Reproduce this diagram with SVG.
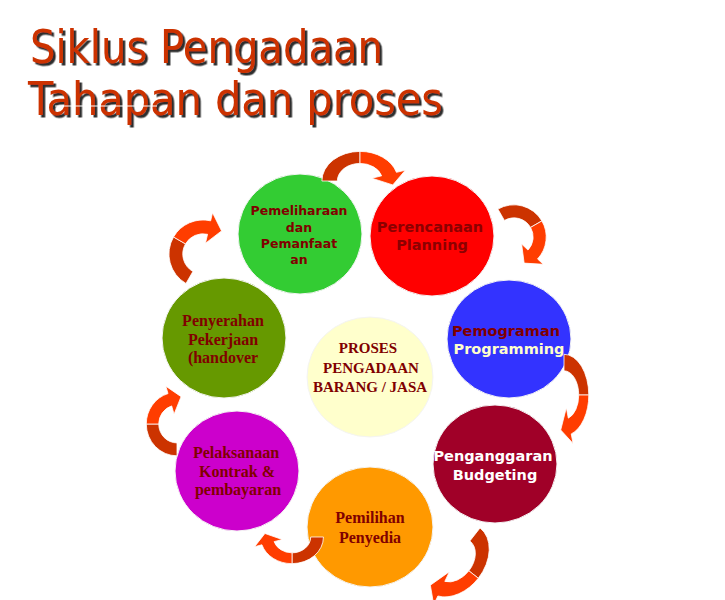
<svg xmlns="http://www.w3.org/2000/svg" xmlns:xlink="http://www.w3.org/1999/xlink" width="725" height="600" viewBox="0 0 725 600">
<style>
.title{font-family:"DejaVu Sans","Liberation Sans",sans-serif;font-size:47px;fill:#CC3300;filter:url(#sh)}
.sans{font-family:"DejaVu Sans","Liberation Sans",sans-serif;font-weight:bold;text-anchor:middle}
.serif{font-family:"Liberation Serif","DejaVu Serif",serif;font-weight:bold;text-anchor:middle;fill:#800000}
.dk{fill:#CC3300;stroke:#fff;stroke-width:0.8;vector-effect:non-scaling-stroke}
.br{fill:#FF3D00;stroke:#fff;stroke-width:0.8;vector-effect:non-scaling-stroke}
.node{stroke:#f4f4f4;stroke-width:1}
</style>
<defs>
<filter id="sh" x="-5%" y="-20%" width="115%" height="150%">
<feDropShadow dx="2.5" dy="2.5" stdDeviation="0.6" flood-color="#222" flood-opacity="0.95"/>
</filter>
<g id="arw">
<path class="dk" d="M -37 0 A 37 37 0 0 1 0 -37 L 0 -22 A 22 22 0 0 0 -22 0 Z"/>
<path class="br" d="M 0 -37 A 37 37 0 0 1 35.38 -10.82 L 43.99 -13.45 L 31.82 4.91 L 11.48 -3.51 L 21.04 -6.43 A 22 22 0 0 0 0 -22 Z"/>
</g>
</defs>
<rect width="725" height="600" fill="#fff"/>
<g id="title">
<text class="title" x="30" y="63" textLength="353" lengthAdjust="spacingAndGlyphs">Siklus Pengadaan</text>
<text class="title" x="28" y="115" textLength="415" lengthAdjust="spacingAndGlyphs">Tahapan dan proses</text>
<line x1="55" y1="106" x2="157" y2="106" stroke="#fff" stroke-width="1"/>
</g>
<g id="node-center">
<ellipse class="node" cx="370" cy="377" rx="63" ry="60" fill="#FFFFCC"/>
<text class="serif" font-size="15" x="368" y="353">PROSES</text>
<text class="serif" font-size="15" x="371" y="373">PENGADAAN</text>
<text class="serif" font-size="15" x="370" y="392">BARANG / JASA</text>
</g>
<g id="node-pemeliharaan">
<ellipse class="node" cx="300" cy="234" rx="62" ry="60" fill="#33CC33"/>
<text class="sans" font-size="12.5" fill="#800000" x="299" y="215">Pemeliharaan</text>
<text class="sans" font-size="12.5" fill="#800000" x="299" y="232">dan</text>
<text class="sans" font-size="12.5" fill="#800000" x="299" y="248">Pemanfaat</text>
<text class="sans" font-size="12.5" fill="#800000" x="299" y="264">an</text>
</g>
<g id="node-perencanaan">
<ellipse class="node" cx="432" cy="236" rx="62" ry="60" fill="#FF0000"/>
<text class="sans" font-size="14.5" fill="#8B0000" x="430" y="232">Perencanaan</text>
<text class="sans" font-size="14.5" fill="#8B0000" x="432" y="250">Planning</text>
</g>
<g id="node-pemograman">
<ellipse class="node" cx="509" cy="339" rx="62" ry="59" fill="#3333FF"/>
<text class="sans" font-size="14.5" fill="#800000" x="506" y="336">Pemograman</text>
<text class="sans" font-size="14.5" fill="#FFFFCC" x="509" y="354">Programming</text>
</g>
<g id="node-penganggaran">
<ellipse class="node" cx="495" cy="464" rx="62" ry="59" fill="#A00028"/>
<text class="sans" font-size="14.5" fill="#FFFFFF" x="493" y="461">Penganggaran</text>
<text class="sans" font-size="14.5" fill="#FFFFFF" x="495" y="480">Budgeting</text>
</g>
<g id="node-pemilihan">
<ellipse class="node" cx="370" cy="527" rx="63" ry="60" fill="#FF9900"/>
<text class="serif" font-size="16" x="370" y="523">Pemilihan</text>
<text class="serif" font-size="16" x="370" y="543">Penyedia</text>
</g>
<g id="node-pelaksanaan">
<ellipse class="node" cx="237" cy="471" rx="62" ry="60" fill="#CC00CC"/>
<text class="serif" font-size="16" x="236" y="458">Pelaksanaan</text>
<text class="serif" font-size="16" x="237" y="477">Kontrak &amp;</text>
<text class="serif" font-size="16" x="238" y="495">pembayaran</text>
</g>
<g id="node-penyerahan">
<ellipse class="node" cx="224" cy="338" rx="62" ry="60" fill="#669900"/>
<text class="serif" font-size="16" x="223" y="326">Penyerahan</text>
<text class="serif" font-size="16" x="223" y="345">Pekerjaan</text>
<text class="serif" font-size="16" x="223" y="363">(handover</text>
</g>
<g id="connectors">
<use xlink:href="#arw" transform="translate(360,181) scale(1.03,0.8)"/>
<use xlink:href="#arw" transform="translate(514,237) rotate(60) scale(0.87)"/>
<use xlink:href="#arw" transform="translate(564,395) rotate(90) scale(1.1,0.67)"/>
<use xlink:href="#arw" transform="translate(455,560) rotate(128) scale(1.1,0.8)"/>
<use xlink:href="#arw" transform="translate(292,537) rotate(180) scale(0.85,0.72)"/>
<use xlink:href="#arw" transform="translate(177,424) rotate(-90) scale(0.86,0.83)"/>
<use xlink:href="#arw" transform="translate(203,254) rotate(-60) scale(0.92)"/>
</g>
</svg>
